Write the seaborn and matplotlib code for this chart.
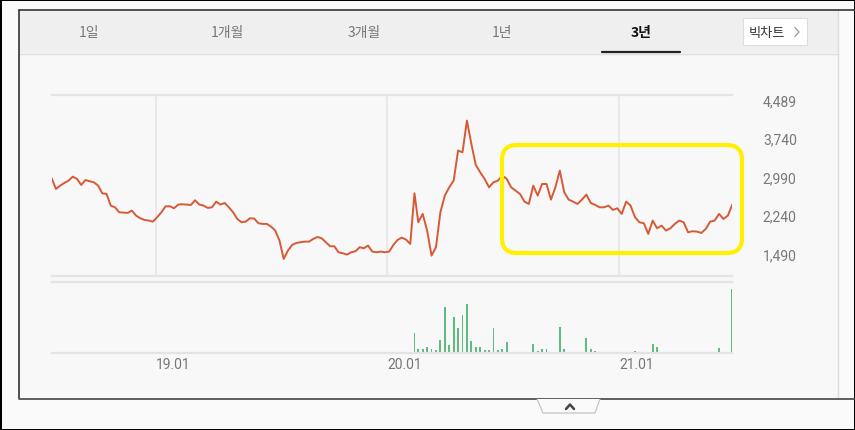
import matplotlib
matplotlib.use("Agg")
import pandas as pd
import matplotlib.pyplot as plt
import seaborn as sns
from matplotlib.patches import Rectangle, FancyBboxPatch, Polygon
from matplotlib.lines import Line2D

# weekly close prices
price = [2956, 2748, 2813, 2865, 2910, 2988, 2943, 2826, 2923, 2897,
         2878, 2813, 2663, 2650, 2423, 2390, 2293, 2287, 2280, 2326,
         2228, 2176, 2144, 2131, 2111, 2196, 2293, 2410, 2410, 2371,
         2443, 2449, 2443, 2436, 2527, 2443, 2423, 2378, 2390, 2501,
         2443, 2475, 2390, 2293, 2163, 2098, 2111, 2176, 2170, 2079,
         2066, 2066, 2014, 1936, 1741, 1383, 1546, 1656, 1695, 1708,
         1721, 1721, 1773, 1812, 1786, 1708, 1630, 1630, 1513, 1493,
         1467, 1513, 1533, 1611, 1591, 1643, 1526, 1513, 1526, 1513,
         1526, 1656, 1754, 1799, 1760, 1676, 2663,
         2098, 2261, 1936, 1448, 1611, 2293, 2618, 2780, 2910, 3496,
         3463, 4081, 3626, 3216, 3073, 2943, 2780, 2878, 2910, 3008,
         2943, 2780, 2715, 2650, 2501, 2456, 2813, 2618, 2845, 2845,
         2540, 2780, 3106, 2683, 2540, 2501, 2456, 2540, 2637, 2475,
         2436, 2390, 2390, 2423, 2339, 2371, 2261, 2501, 2423, 2196,
         2098, 2079, 1871, 2131, 1981, 2033, 1936, 1981, 2066, 2131,
         2098, 1903, 1923, 1916, 1890, 1968, 2111, 2131, 2261, 2163,
         2228, 2443]

# weekly volume from Feb 2020 on (relative units)
volume = [60, 13, 13, 18, 13, 9, 40, 138, 25, 106,
          73, 114, 145, 36, 18, 18, 9, 9, 73, 9,
          13, 34, 2, 2, 2, 2, 4, 27, 6, 13,
          11, 4, 2, 76, 13, 4, 2, 2, 2, 45,
          13, 6, 4, 2, 1, 1, 1, 1, 2, 1,
          5, 1, 1, 2, 26, 19, 4, 2, 2, 4,
          4, 2, 1, 1, 1, 1, 1, 2, 4, 14,
          4, 2, 191]

dates = pd.date_range("2018-07-20", "2020-02-13", periods=87).append(
    pd.date_range("2020-02-19", "2021-06-29", periods=72))
vol_dates = dates[len(dates) - len(volume):]

year_ticks = pd.to_datetime(["2019-01-01", "2020-01-01", "2021-01-01"])
year_labels = ["19.01", "20.01", "21.01"]
price_ticks = [1490, 2240, 2990, 3740, 4489]
tabs = ["1일", "1개월", "3개월", "1년", "3년"]
tab_x = [89, 227, 364, 502, 641]

df = pd.DataFrame({"date": dates, "price": price})

sns.set_style("white")
plt.rcParams["font.family"] = ["Roboto", "Noto Sans CJK KR", "DejaVu Sans"]

W, H = 855, 431
fig = plt.figure(figsize=(W / 100, H / 100), dpi=100, facecolor="#fafafa")
fig.patch.set_edgecolor("black")
fig.patch.set_linewidth(2)
T = fig.dpi_scale_trans
kr = ["Noto Sans CJK KR", "DejaVu Sans"]


def px(x, y):
    return (x / 100, (H - y) / 100)


def box(x0, y0, x1, y1, **kw):
    fig.add_artist(Rectangle(px(x0, y1), (x1 - x0) / 100, (y1 - y0) / 100,
                             transform=T, **kw))


def seg(xs, ys, **kw):
    fig.add_artist(Line2D([x / 100 for x in xs], [(H - y) / 100 for y in ys],
                          transform=T, **kw))


# widget frame
box(19, 11, 838, 399, fc="#f8f8f8", ec="none", zorder=-3)
box(19, 12, 838, 54, fc="#efefef", ec="none", zorder=-2)
seg([19, 838], [54.5, 54.5], color="#dedede", lw=1, zorder=-1)
seg([838, 838], [11, 399], color="#dcdcdc", lw=1, zorder=-1)
seg([19, 855], [11, 11], color="#333333", lw=1.2, zorder=-1)
seg([19, 19], [11, 399], color="#333333", lw=1.2, zorder=-1)
seg([19, 855], [399.5, 399.5], color="#444444", lw=1.2, zorder=-1)

# tabs
for t, x in zip(tabs, tab_x):
    bold = t == "3년"
    fig.text(x / W, 1 - 33 / H, t, family=kr, fontsize=10,
             color="#111111" if bold else "#777777",
             weight="bold" if bold else "normal", ha="center", va="center")
seg([602, 680], [53, 53], color="#222222", lw=1.6, zorder=1)

box(743, 19, 807, 46, fc="white", ec="#dddddd", lw=0.8, zorder=0)
fig.text(767 / W, 1 - 33 / H, "빅차트", family=kr, fontsize=9.5,
         color="#333333", ha="center", va="center")
seg([795, 799, 795], [28.5, 33, 37.5], color="#999999", lw=0.9, zorder=1)

# bottom pull tab
fig.add_artist(Polygon([px(537, 400), px(543, 414), px(595, 414), px(600, 400)],
                       closed=False, transform=T, fc="#fafafa", ec="#c4c4c4",
                       lw=0.9, zorder=0))
seg([566, 570, 574], [410, 405.5, 410], color="#444444", lw=1.8, zorder=1)

# price panel
ax1 = fig.add_axes([51.7 / W, 1 - 276.7 / H, 680.6 / W, 181.2 / H])
sns.lineplot(data=df, x="date", y="price", ax=ax1, color="#d65a35", lw=1.4)
ax1.set_facecolor("none")
ax1.set_xlim(dates[0], dates[-1])
ax1.set_ylim(1056, 4590)
for s in ["left", "right"]:
    ax1.spines[s].set_visible(False)
for s in ["top", "bottom"]:
    ax1.spines[s].set_color("#e4e4e4")
    ax1.spines[s].set_linewidth(1.6)
ax1.set_xticks(year_ticks)
ax1.tick_params(axis="x", length=0, labelbottom=False)
ax1.grid(axis="x", color="#e6e6e6", lw=1.2)
ax1.yaxis.tick_right()
ax1.set_yticks(price_ticks, [f"{v:,}" for v in price_ticks])
ax1.tick_params(axis="y", length=0, pad=22, labelsize=10, labelcolor="#777777")
ax1.set_xlabel("")
ax1.set_ylabel("")

# volume panel
ax2 = fig.add_axes([51.7 / W, 1 - 354 / H, 680.6 / W, 70.7 / H])
ax2.bar(vol_dates, volume, width=3.0, color="#5fbb80", edgecolor="none",
        linewidth=0)
ax2.set_facecolor("none")
ax2.set_xlim(dates[0], dates[-1])
ax2.set_ylim(0, 210)
for s in ["left", "right"]:
    ax2.spines[s].set_visible(False)
for s in ["top", "bottom"]:
    ax2.spines[s].set_color("#e4e4e4")
    ax2.spines[s].set_linewidth(1.6)
ax2.set_yticks([])
ax2.set_xticks(year_ticks, year_labels, ha="left")
ax2.tick_params(axis="x", length=0, pad=3, labelsize=10, labelcolor="#777777")

# highlight box
fig.add_artist(FancyBboxPatch(px(502, 254), 2.40, 1.08,
                              boxstyle="round,pad=0,rounding_size=0.15",
                              transform=T, fill=False, ec="#fff000", lw=3,
                              zorder=10))

fig.savefig("out.png", dpi=100)
